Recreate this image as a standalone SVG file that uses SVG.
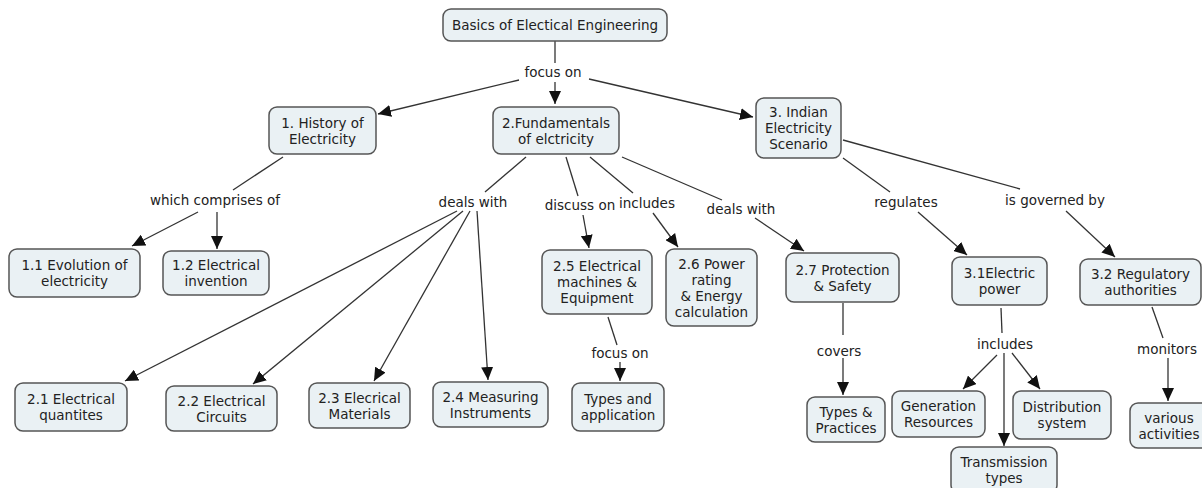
<svg xmlns="http://www.w3.org/2000/svg" width="1202" height="488" viewBox="0 0 1202 488">
<style>
.n rect{fill:#EAF1F4;stroke:#555;stroke-width:1.5}
text{font-family:"DejaVu Sans",Verdana,sans-serif;font-size:13.5px;fill:#222;text-anchor:middle}
.c line{stroke:#333;stroke-width:1.3;fill:none}
.c line.a{marker-end:url(#ah)}
</style>
<defs>
<marker id="ah" viewBox="0 0 13 12" refX="13" refY="6" markerWidth="13" markerHeight="12" markerUnits="userSpaceOnUse" orient="auto"><path d="M0,0 L13,6 L0,12 z" fill="#111"/></marker>
</defs>
<rect width="1202" height="488" fill="#fff"/>
<g class="c">
<line x1="555" y1="41" x2="555" y2="63"/>
<line class="a" x1="555" y1="82" x2="555" y2="104"/>
<line class="a" x1="519" y1="80" x2="378" y2="114"/>
<line class="a" x1="589" y1="79" x2="753" y2="117"/>
<line x1="283" y1="157" x2="233" y2="190"/>
<line class="a" x1="198" y1="212" x2="132" y2="246"/>
<line class="a" x1="217" y1="212" x2="217" y2="249"/>
<line x1="526" y1="157" x2="485" y2="192"/>
<line class="a" x1="457" y1="211" x2="125" y2="381"/>
<line class="a" x1="463" y1="211" x2="253" y2="384"/>
<line class="a" x1="470" y1="211" x2="374" y2="381"/>
<line class="a" x1="477" y1="211" x2="488" y2="380"/>
<line x1="566" y1="157" x2="578" y2="196"/>
<line class="a" x1="583" y1="215" x2="589" y2="248"/>
<line x1="590" y1="157" x2="633" y2="193"/>
<line class="a" x1="653" y1="213" x2="678" y2="247"/>
<line x1="622" y1="157" x2="722" y2="200"/>
<line class="a" x1="755" y1="218" x2="804" y2="251"/>
<line x1="608" y1="317" x2="617" y2="345"/>
<line class="a" x1="620" y1="362" x2="620" y2="381"/>
<line x1="843" y1="158" x2="890" y2="192"/>
<line class="a" x1="918" y1="212" x2="967" y2="255"/>
<line x1="843" y1="140" x2="1020" y2="189"/>
<line class="a" x1="1066" y1="211" x2="1115" y2="257"/>
<line x1="843" y1="303" x2="843" y2="335"/>
<line class="a" x1="843" y1="358" x2="843" y2="395"/>
<line x1="1001" y1="308" x2="1002" y2="333"/>
<line class="a" x1="997" y1="355" x2="963" y2="389"/>
<line class="a" x1="1004" y1="353" x2="1004" y2="446"/>
<line class="a" x1="1012" y1="353" x2="1040" y2="389"/>
<line x1="1152" y1="307" x2="1163" y2="338"/>
<line class="a" x1="1168" y1="358" x2="1168" y2="401"/>
</g>
<g id="labels">
<text x="553" y="77">focus on</text>
<text x="215" y="205">which comprises of</text>
<text x="473" y="207">deals with</text>
<text x="580" y="210">discuss on</text>
<text x="647" y="208">includes</text>
<text x="741" y="214">deals with</text>
<text x="906" y="207">regulates</text>
<text x="1055" y="205">is governed by</text>
<text x="620" y="358">focus on</text>
<text x="839" y="356">covers</text>
<text x="1005" y="349">includes</text>
<text x="1167" y="354">monitors</text>
</g>
<g id="root" class="n"><rect x="443" y="9" width="224" height="32" rx="8"/><text x="555" y="30">Basics of Electical Engineering</text></g>
<g id="n1" class="n"><rect x="269" y="107" width="107" height="47" rx="8"/><text x="322.5" y="127.5">1. History of</text><text x="322.5" y="143.5">Electricity</text></g>
<g id="n2" class="n"><rect x="493" y="107" width="126" height="47" rx="8"/><text x="556" y="127.5">2.Fundamentals</text><text x="556" y="143.5">of elctricity</text></g>
<g id="n3" class="n"><rect x="756" y="98" width="85" height="60" rx="8"/><text x="798.5" y="117">3. Indian</text><text x="798.5" y="133">Electricity</text><text x="798.5" y="149">Scenario</text></g>
<g id="n11" class="n"><rect x="9" y="249" width="131" height="48" rx="8"/><text x="74.5" y="270">1.1 Evolution of</text><text x="74.5" y="286">electricity</text></g>
<g id="n12" class="n"><rect x="163" y="251" width="106" height="44" rx="8"/><text x="216" y="270">1.2 Electrical</text><text x="216" y="286">invention</text></g>
<g id="n21" class="n"><rect x="15" y="383" width="112" height="48" rx="8"/><text x="71" y="404">2.1 Electrical</text><text x="71" y="420">quantites</text></g>
<g id="n22" class="n"><rect x="166" y="386" width="111" height="45" rx="8"/><text x="221.5" y="405.5">2.2 Electrical</text><text x="221.5" y="421.5">Circuits</text></g>
<g id="n23" class="n"><rect x="309" y="383" width="101" height="45" rx="8"/><text x="359.5" y="402.5">2.3 Elecrical</text><text x="359.5" y="418.5">Materials</text></g>
<g id="n24" class="n"><rect x="433" y="382" width="115" height="45" rx="8"/><text x="490.5" y="401.5">2.4 Measuring</text><text x="490.5" y="417.5">Instruments</text></g>
<g id="n25" class="n"><rect x="542" y="250" width="110" height="64" rx="8"/><text x="597" y="271">2.5 Electrical</text><text x="597" y="287">machines &amp;</text><text x="597" y="303">Equipment</text></g>
<g id="n26" class="n"><rect x="666" y="249" width="91" height="77" rx="8"/><text x="711.5" y="268.5">2.6 Power</text><text x="711.5" y="284.5">rating</text><text x="711.5" y="300.5">&amp; Energy</text><text x="711.5" y="316.5">calculation</text></g>
<g id="n27" class="n"><rect x="786" y="253" width="113" height="49" rx="8"/><text x="842.5" y="274.5">2.7 Protection</text><text x="842.5" y="290.5">&amp; Safety</text></g>
<g id="n25a" class="n"><rect x="572" y="383" width="92" height="48" rx="8"/><text x="618" y="404">Types and</text><text x="618" y="420">application</text></g>
<g id="n31" class="n"><rect x="952" y="257" width="95" height="48" rx="8"/><text x="999.5" y="278">3.1Electric</text><text x="999.5" y="294">power</text></g>
<g id="n32" class="n"><rect x="1080" y="259" width="121" height="46" rx="8"/><text x="1140.5" y="279">3.2 Regulatory</text><text x="1140.5" y="295">authorities</text></g>
<g id="n27a" class="n"><rect x="807" y="397" width="78" height="45" rx="8"/><text x="846" y="416.5">Types &amp;</text><text x="846" y="432.5">Practices</text></g>
<g id="n31a" class="n"><rect x="892" y="391" width="93" height="46" rx="8"/><text x="938.5" y="411">Generation</text><text x="938.5" y="427">Resources</text></g>
<g id="n31b" class="n"><rect x="1013" y="391" width="98" height="48" rx="8"/><text x="1062" y="412">Distribution</text><text x="1062" y="428">system</text></g>
<g id="n31c" class="n"><rect x="951" y="447" width="106" height="46" rx="8"/><text x="1004" y="467">Transmission</text><text x="1004" y="483">types</text></g>
<g id="n32a" class="n"><rect x="1130" y="403" width="80" height="45" rx="8"/><text x="1169" y="422.5">various</text><text x="1169" y="438.5">activities</text></g>
</svg>
